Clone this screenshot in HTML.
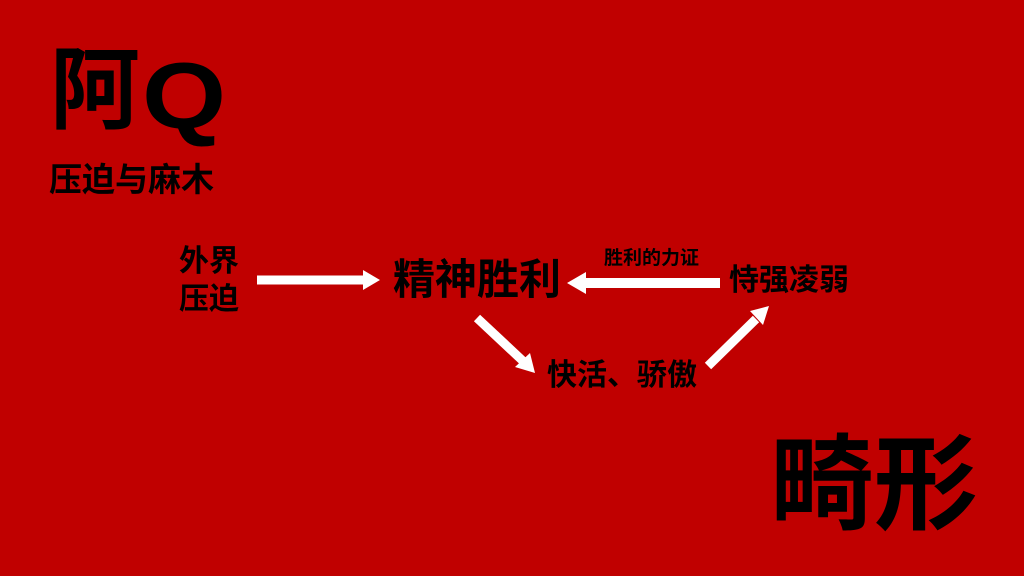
<!DOCTYPE html>
<html><head><meta charset="utf-8"><style>
html,body{margin:0;padding:0}
body{width:1024px;height:576px;background:#c00000;position:relative;overflow:hidden;font-family:"Liberation Sans","Noto Sans CJK SC",sans-serif;font-weight:bold;color:#000}
.t{position:absolute;line-height:1;white-space:nowrap}
</style></head><body>
<div class="t" style="left:50px;top:46px;font-size:90px;">阿</div>
<div class="t" style="left:142px;top:49px;font-size:94px;transform:scaleX(1.15);transform-origin:left top;">Q</div>
<div class="t" style="left:49px;top:163px;font-size:33px;">压迫与麻木</div>
<div class="t" style="left:179px;top:243px;font-size:30px;line-height:38px;">外界<br>压迫</div>
<div class="t" style="left:393px;top:259px;font-size:42px;">精神胜利</div>
<div class="t" style="left:604px;top:249px;font-size:19px;">胜利的力证</div>
<div class="t" style="left:729px;top:266px;font-size:30px;">恃强凌弱</div>
<div class="t" style="left:547px;top:361px;font-size:30px;">快活、骄傲</div>
<div class="t" style="left:770px;top:434px;font-size:104px;">畸形</div>
<svg width="1024" height="576" style="position:absolute;left:0;top:0">
<g fill="#fff" stroke="#fff">
<line x1="257" y1="280" x2="366" y2="280" stroke-width="9"/>
<polygon points="363,270 380,280 363,290" stroke="none"/>
<line x1="720" y1="283" x2="582" y2="283" stroke-width="10"/>
<polygon points="586,272 567,283 586,294" stroke="none"/>
<line x1="477" y1="318" x2="524" y2="362" stroke-width="9"/>
<polygon points="515,367 535,373 530,353" stroke="none"/>
<line x1="708" y1="366" x2="756" y2="319" stroke-width="9"/>
<polygon points="750,311 769,306 763,325" stroke="none"/>
</g>
</svg>
</body></html>
